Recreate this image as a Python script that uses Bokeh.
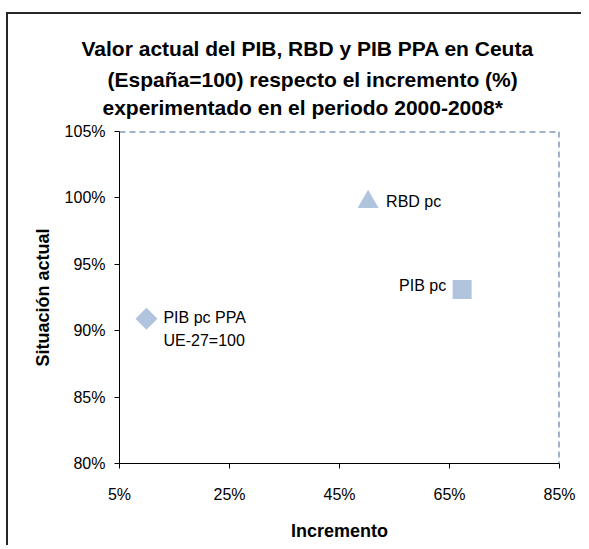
from bokeh.plotting import figure
from bokeh.models import FixedTicker, PrintfTickFormatter, Range1d, Span, Title
from bokeh.embed import file_html
from bokeh.resources import INLINE
from bokeh.core.properties import value

# ---- data ----
series = ["PIB pc PPA", "RBD pc", "PIB pc"]
incremento = [9.9, 50.2, 67.3]          # % increase 2000-2008
situacion = [90.9, 99.7, 93.1]          # current level (España=100), %
point_labels = ["PIB pc PPA\nUE-27=100", "RBD pc", "PIB pc"]
x_ticks = [5, 25, 45, 65, 85]
y_ticks = [80, 85, 90, 95, 100, 105]
title_lines = [
    "Valor actual del PIB, RBD y PIB PPA en Ceuta",
    "(España=100) respecto el incremento (%)",
    "experimentado en el periodo 2000-2008*",
]

FONT = "Liberation Sans"
MARK = "#b0c4de"
DASH = "#44699a"

W, H = 575, 533
FL, FR, FT, FB = 111, 551, 117, 449   # frame edges in canvas px

p = figure(width=W, height=H, x_range=Range1d(5, 85), y_range=Range1d(80, 105),
           output_backend="svg", toolbar_location=None,
           min_border_left=FL, min_border_right=W - FR,
           min_border_top=FT, min_border_bottom=H - FB)
p.styles = {"margin-top": "12px", "margin-left": "6px",
            "border-top": "2px solid #262626", "border-left": "2px solid #262626"}
p.grid.visible = False
p.outline_line_color = None

# dashed top / right edges
p.add_layout(Span(location=105, dimension="width", line_color=DASH,
                  line_dash="6 4", line_width=2))
p.add_layout(Span(location=85, dimension="height", line_color=DASH,
                  line_dash="6 4", line_width=2))

for ax in (p.xaxis[0], p.yaxis[0]):
    ax.axis_line_color = "black"
    ax.major_tick_line_color = "black"
    ax.major_tick_out = 5
    ax.major_tick_in = 0
    ax.minor_tick_line_color = None
    ax.formatter = PrintfTickFormatter(format="%d%%")
    ax.major_label_text_font = FONT
    ax.major_label_text_font_size = "16px"
    ax.major_label_text_color = "black"
    ax.axis_label_text_font = FONT
    ax.axis_label_text_font_style = "bold"
    ax.axis_label_text_font_size = "18px"
    ax.axis_label_text_color = "black"

p.xaxis.ticker = FixedTicker(ticks=x_ticks)
p.yaxis.ticker = FixedTicker(ticks=y_ticks)
p.xaxis.major_label_standoff = 17
p.yaxis.major_label_standoff = 9
p.xaxis.axis_label = "Incremento"
p.yaxis.axis_label = "Situación actual"
p.xaxis.axis_label_standoff = 15
p.yaxis.axis_label_standoff = 9

# markers
p.scatter([incremento[0]], [situacion[0]], marker="square", angle=0.785398,
          size=15.5, fill_color=MARK, line_color=None)
p.scatter([incremento[1]], [situacion[1]], marker="triangle",
          size=21, fill_color=MARK, line_color=None)
p.scatter([incremento[2]], [situacion[2]], marker="square",
          size=19, fill_color=MARK, line_color=None)

# point labels
common = dict(text_font=value(FONT), text_font_size="16px", text_color="black",
              text_baseline="middle")
p.text(x=[incremento[0]], y=[situacion[0]], text=[point_labels[0]],
       x_offset=17, y_offset=10, text_align="left", text_line_height=1.38, **common)
p.text(x=[incremento[1]], y=[situacion[1]], text=[point_labels[1]],
       x_offset=18, y_offset=0, text_align="left", **common)
p.text(x=[incremento[2]], y=[situacion[2]], text=[point_labels[2]],
       x_offset=-16, y_offset=-4, text_align="right", **common)

# title: three stacked lines (added from the frame outward)
tstyle = dict(text_font=FONT, text_font_style="bold", text_font_size="21px",
              text_color="black", text_line_height=1.38, align="left")
p.add_layout(Title(text=title_lines[2], offset=-17, standoff=26, **tstyle), "above")
p.add_layout(Title(text=title_lines[1], offset=-12, standoff=-20, **tstyle), "above")
p.add_layout(Title(text=title_lines[0], offset=-38, standoff=32, **tstyle), "above")

open("out.html", "w").write(file_html(p, INLINE))
